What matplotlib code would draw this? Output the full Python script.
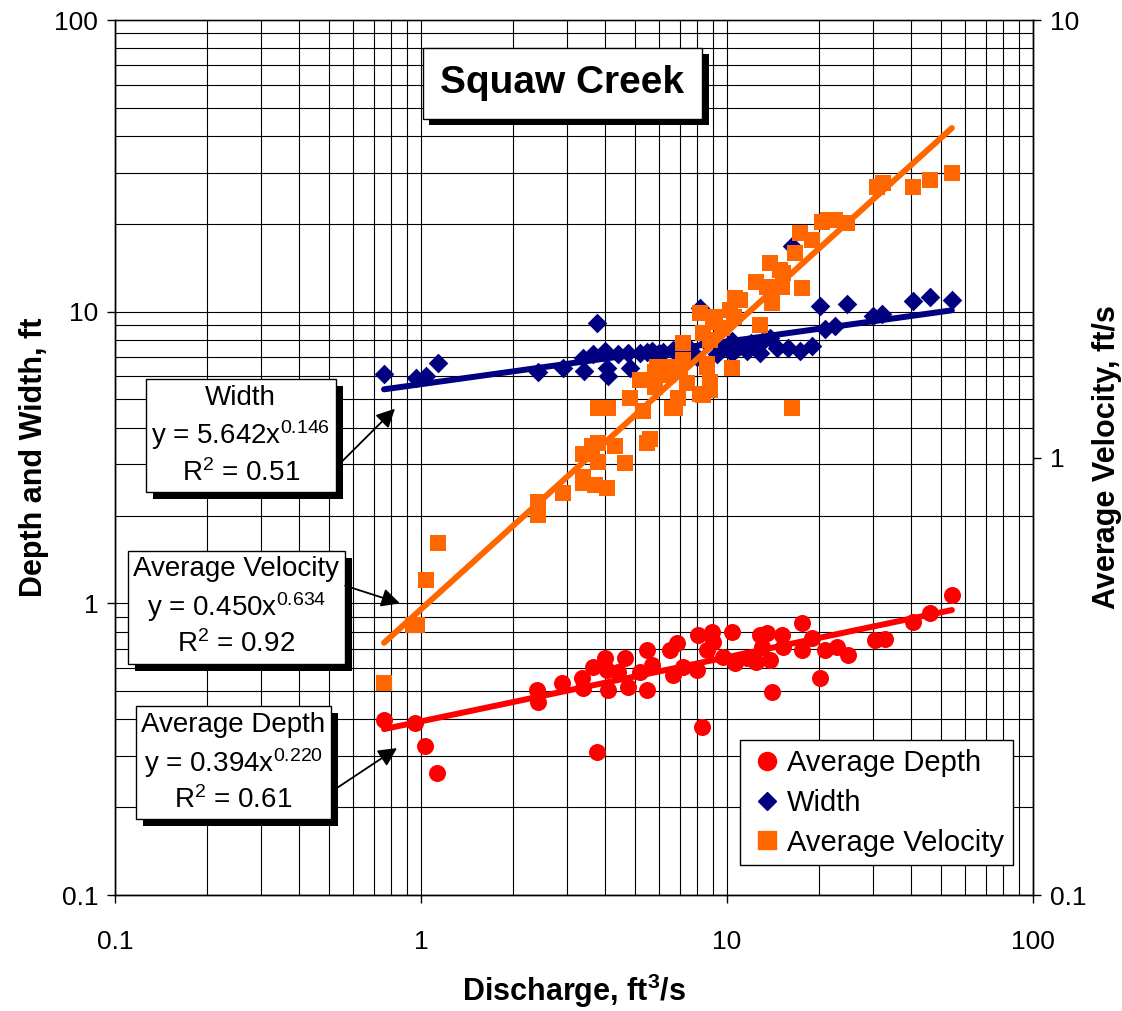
import numpy as np
import matplotlib
matplotlib.use("Agg")
import matplotlib.pyplot as plt
from matplotlib import patheffects
from matplotlib.ticker import FixedLocator, FixedFormatter, NullFormatter, LogLocator
from matplotlib.lines import Line2D

plt.rcParams['font.family'] = ['Liberation Sans', 'DejaVu Sans']
plt.rcParams['mathtext.fontset'] = 'custom'
plt.rcParams['mathtext.rm'] = 'Liberation Sans'
plt.rcParams['mathtext.it'] = 'Liberation Sans:italic'
plt.rcParams['mathtext.bf'] = 'Liberation Sans:bold'

# ---------------- data ----------------
depth_q = [0.757, 0.956, 1.03, 1.128, 2.39, 2.41, 2.89, 3.36, 3.38, 3.65, 3.76, 3.99, 4.05, 4.08,
           4.40, 4.64, 4.75, 5.20, 5.48, 5.48, 5.69, 6.51, 6.66, 6.87, 7.18, 7.98, 8.04, 8.28,
           8.60, 8.93, 9.00, 9.70, 10.4, 10.6, 11.6, 12.4, 12.8, 13.0, 13.5, 13.8, 14.0, 15.1,
           15.2, 17.6, 17.6, 19.0, 20.1, 20.9, 22.9, 24.8, 30.5, 32.8, 40.5, 46.0, 54.3]
depth = [0.397, 0.388, 0.324, 0.262, 0.504, 0.458, 0.532, 0.553, 0.512, 0.604, 0.309, 0.648, 0.590, 0.504,
         0.580, 0.648, 0.515, 0.580, 0.690, 0.504, 0.614, 0.690, 0.567, 0.729, 0.604, 0.590, 0.777, 0.376,
         0.690, 0.796, 0.735, 0.653, 0.796, 0.623, 0.648, 0.628, 0.777, 0.707, 0.789, 0.638, 0.496, 0.777,
         0.707, 0.854, 0.690, 0.759, 0.553, 0.690, 0.707, 0.663, 0.747, 0.753, 0.861, 0.924, 1.065]

width_q = [0.757, 0.963, 1.04, 1.14, 2.41, 2.91, 3.38, 3.40, 3.65, 3.76, 3.99, 4.05, 4.08,
           4.40, 4.75, 4.82, 5.20, 5.48, 5.69, 6.0, 6.2, 6.66, 6.8, 7.18, 7.5, 8.0, 8.16, 8.6,
           9.29, 9.7, 10.4, 10.4, 11.0, 11.6, 12.0, 12.8, 13.0, 13.8, 14.6, 15.8, 16.3, 17.3, 19.0,
           20.1, 20.9, 22.5, 24.7, 30.0, 32.1, 40.5, 46.0, 54.3]
width = [6.13, 5.94, 6.04, 6.69, 6.23, 6.43, 6.96, 6.28, 7.18, 9.17, 7.35, 6.43, 6.04,
         7.18, 7.24, 6.43, 7.24, 7.30, 7.35, 7.2, 7.3, 7.4, 7.4, 7.6, 7.5, 7.0, 10.3, 7.8,
         7.18, 7.5, 7.96, 7.24, 7.6, 7.35, 7.8, 7.24, 7.9, 8.15, 7.53, 7.53, 16.8, 7.35, 7.65,
         10.5, 8.74, 8.95, 10.6, 9.69, 9.84, 10.9, 11.2, 11.0]

vel_q = [0.757, 0.94, 0.97, 1.04, 1.14, 2.41, 2.41, 2.91, 3.38, 3.38, 3.70, 4.05,
         3.38, 3.79, 3.79, 3.62, 4.31, 4.64, 3.79, 4.08, 5.48, 4.82, 5.31, 5.20,
         5.82, 5.82, 6.76, 6.41, 7.02, 7.40, 8.16, 8.80, 8.60, 7.18, 8.35, 8.16,
         9.14, 8.80, 6.92, 6.61, 5.60, 5.90, 6.51, 7.18, 8.60, 8.80, 8.35, 9.00, 9.63, 10.4,
         10.2, 10.5, 10.6, 11.0, 12.4, 12.8, 13.5, 13.8, 14.0, 14.9, 15.1, 15.2, 16.3, 16.7,
         17.3, 17.6, 19.0, 20.4, 21.4, 22.5, 24.7, 30.9, 32.4, 40.5, 46.0, 54.3]
velocity = [0.305, 0.414, 0.414, 0.525, 0.638, 0.791, 0.739, 0.830, 0.902, 0.875, 0.865, 0.851,
            1.02, 1.08, 0.977, 1.06, 1.06, 0.971, 1.30, 1.30, 1.08, 1.37, 1.28, 1.50,
            1.57, 1.45, 1.30, 1.54, 1.61, 1.48, 1.40, 1.43, 1.61, 1.83, 1.93, 2.14,
            2.10, 1.86, 1.37, 1.30, 1.10, 1.61, 1.61, 1.67, 1.64, 1.49, 1.39, 2.04, 1.98, 1.60,
            2.17, 2.10, 2.32, 2.29, 2.52, 2.01, 2.45, 2.78, 2.26, 2.69, 2.45, 2.64, 1.30, 2.93,
            3.26, 2.44, 3.14, 3.45, 3.49, 3.49, 3.44, 4.15, 4.24, 4.15, 4.31, 4.47]

# trend-line coefficients shown in the chart (y = a * x^b)
width_fit = (5.642, 0.146)
vel_fit = (0.450, 0.634)
depth_fit = (0.394, 0.220)

left_ticks = [0.1, 1, 10, 100]
left_labels = ['0.1', '1', '10', '100']
right_ticks = [0.1, 1, 10]
right_labels = ['0.1', '1', '10']
x_ticks = [0.1, 1, 10, 100]
x_labels = ['0.1', '1', '10', '100']

RED = '#FF0000'
NAVY = '#000080'
ORANGE = '#FF6600'

fig = plt.figure(figsize=(11.22, 10.11), dpi=100)
ax = fig.add_axes([0.1025, 0.1147, 0.8182, 0.8655])
ax.set_xscale('log')
ax.set_yscale('log')
ax.set_xlim(0.1, 100)
ax.set_ylim(0.1, 100)
ax.set_axisbelow(True)
ax.xaxis.set_minor_locator(LogLocator(base=10, subs=np.arange(2, 10)))
ax.yaxis.set_minor_locator(LogLocator(base=10, subs=np.arange(2, 10)))
ax.grid(which='both', color='black', lw=0.8)

ax2 = ax.twinx()
ax2.set_yscale('log')
ax2.set_ylim(0.1, 10)

qmin = min(depth_q)
qmax = max(depth_q)
qline = np.geomspace(qmin, qmax, 50)

ax.plot(qline, width_fit[0] * qline ** width_fit[1], color=NAVY, lw=4.3, solid_capstyle='round', zorder=3)
ax.plot(qline, depth_fit[0] * qline ** depth_fit[1], color=RED, lw=4.3, solid_capstyle='round', zorder=3)
ax.scatter(depth_q, depth, s=150, marker='o', color=RED, lw=0, zorder=4)
ax.scatter(width_q, width, s=100, marker='D', color=NAVY, lw=0, zorder=4)

ax2.plot(qline, vel_fit[0] * qline ** vel_fit[1], color=ORANGE, lw=4.3, solid_capstyle='round', zorder=3)
ax2.scatter(vel_q, velocity, s=145, marker='s', color=ORANGE, lw=0, zorder=4)

# ticks
for a in (ax, ax2):
    a.tick_params(which='minor', length=0)
    a.tick_params(which='major', direction='out', length=6, width=1, labelsize=19, pad=6)
    a.yaxis.set_minor_formatter(NullFormatter())
ax.xaxis.set_minor_formatter(NullFormatter())
ax.xaxis.set_major_locator(FixedLocator(x_ticks))
ax.xaxis.set_major_formatter(FixedFormatter(x_labels))
ax.yaxis.set_major_locator(FixedLocator(left_ticks))
ax.yaxis.set_major_formatter(FixedFormatter(left_labels))
ax2.yaxis.set_major_locator(FixedLocator(right_ticks))
ax2.yaxis.set_major_formatter(FixedFormatter(right_labels))
ax.tick_params(axis='x', pad=19)

for a in (ax, ax2):
    for s in a.spines.values():
        s.set_color('black')
        s.set_linewidth(1)
ax.spines['top'].set_color('#888888')

ax.set_xlabel(r'Discharge, ft$^{\mathbf{3}}$/s', fontsize=22, fontweight='bold', labelpad=13)
ax.set_ylabel('Depth and Width, ft', fontsize=22, fontweight='bold', labelpad=4)
ax2.set_ylabel('Average Velocity, ft/s', fontsize=22, fontweight='bold', labelpad=4)

# title box
shadow = [patheffects.withSimplePatchShadow(offset=(5, -5), shadow_rgbFace='black', alpha=1.0)]
t = ax.text(0.487, 0.928, 'Squaw Creek', transform=ax.transAxes, ha='center', va='center',
            fontsize=28, fontweight='bold', zorder=10,
            bbox=dict(boxstyle='square,pad=0.45', fc='white', ec='black', lw=1))
t.get_bbox_patch().set_path_effects(shadow)

# equation boxes
boxes = [
    ('Width\ny = 5.642x$^{0.146}$\nR$^2$ = 0.51', 0.137, 0.525),
    ('Average Velocity\ny = 0.450x$^{0.634}$\nR$^2$ = 0.92', 0.132, 0.329),
    ('Average Depth\ny = 0.394x$^{0.220}$\nR$^2$ = 0.61', 0.129, 0.151),
]
for txt, bx, by in boxes:
    tb = ax.text(bx, by, txt, transform=ax.transAxes, ha='center', va='center', fontsize=20,
                 linespacing=1.3, multialignment='center', zorder=10,
                 bbox=dict(boxstyle='square,pad=0.2', fc='white', ec='black', lw=1))
    tb.get_bbox_patch().set_path_effects(shadow)

arrow_kw = dict(arrowstyle='-|>', color='black', lw=1.3, mutation_scale=28, shrinkA=0, shrinkB=0)
ax.annotate('', xy=(0.822, 4.65), xytext=(0.544, 3.02), arrowprops=arrow_kw, zorder=11)
ax.annotate('', xy=(0.854, 1.0), xytext=(0.565, 1.15), arrowprops=arrow_kw, zorder=11)
ax.annotate('', xy=(0.835, 0.319), xytext=(0.535, 0.234), arrowprops=arrow_kw, zorder=11)

handles = [
    Line2D([], [], marker='o', ls='none', color=RED, markersize=13, label='Average Depth'),
    Line2D([], [], marker='D', ls='none', color=NAVY, markersize=9, label='Width'),
    Line2D([], [], marker='s', ls='none', color=ORANGE, markersize=13, label='Average Velocity'),
]
leg = ax2.legend(handles=handles, loc='lower right', bbox_to_anchor=(0.978, 0.034), fontsize=21,
                 frameon=True, fancybox=False, edgecolor='black', framealpha=1, borderpad=0.3,
                 handletextpad=0.1, handlelength=1.2, labelspacing=0.4, borderaxespad=0)
leg.get_frame().set_linewidth(1)
leg.set_zorder(12)

fig.savefig('out.png', dpi=100)
